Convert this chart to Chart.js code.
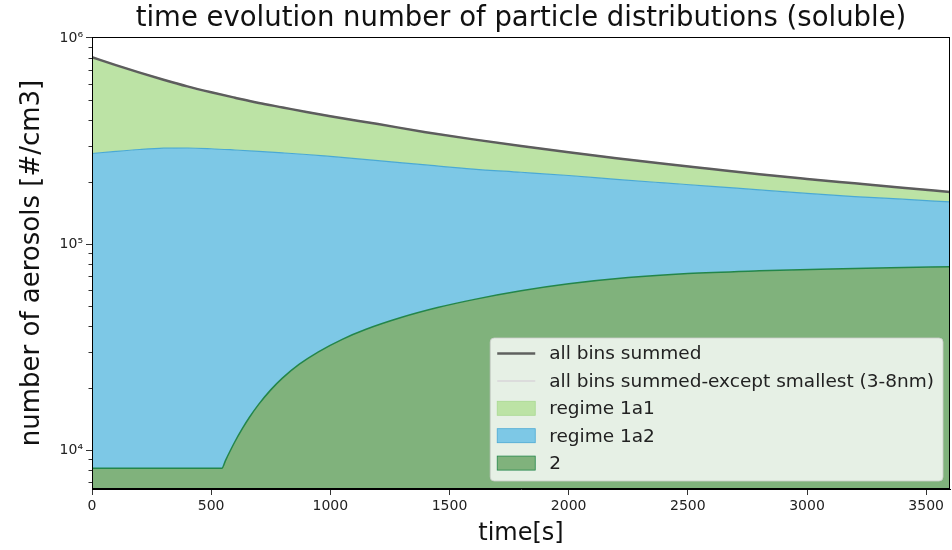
<!DOCTYPE html>
<html>
<head>
<meta charset="utf-8">
<script src="https://cdn.jsdelivr.net/npm/chart.js@4"></script>
<style>
  html, body { margin: 0; background: #fff; }
</style>
</head>
<body>
<canvas id="evolutionChart" width="952" height="550"></canvas>
<script>
// ==================== DATA ====================
// time [s] for the summed curves and the 1a2 band
const times = [0, 100, 200, 300, 400, 500, 600, 700, 800, 900, 1000,
  1200, 1400, 1600, 1800, 2000, 2200, 2400, 2600, 2800, 3000, 3200, 3400, 3600];

// all bins summed [#/cm3] (also the top of the stack)
const summedAll = [806000, 738000, 679000, 627000, 582000, 545000, 513000, 484000, 460000, 437000, 417000,
  382000, 349000, 322000, 299000, 279000, 261000, 245000, 231000, 218000, 207000, 197000, 187500, 179000];

// all bins except the 3-8nm bin, runs right under the full sum
const summedExceptSmallest = [806000, 738000, 679000, 627000, 582000, 545000, 513000, 484000, 460000, 437000, 417000,
  382000, 349000, 322000, 299000, 279000, 261000, 245000, 231000, 218000, 207000, 197000, 187500, 179000];

// upper edge of the regime 1a2 band (1a2 stacked on 2)
const regime1a2Top = [275000, 281600, 287500, 291700, 292400, 290000, 286000, 281600, 277000, 272000, 266000,
  254000, 242000, 231000, 223000, 215000, 206000, 198000, 190500, 183000, 176000, 170000, 165000, 160000];

// regime 2 has its own time grid, denser where it starts growing
const times2 = [0, 545, 560, 580, 600, 630, 660, 700, 750, 800, 870, 950, 1050, 1150,
  1300, 1450, 1600, 1800, 2000, 2250, 2500, 2800, 3100, 3350, 3600];
const regime2 = [8150, 8150, 8890, 9920, 11000, 12660, 14380, 16700, 19590, 22400, 26100, 29970, 34470, 38550,
  44070, 49140, 53720, 59270, 64090, 68730, 71870, 74070, 75710, 76760, 77640];

const xTicks = [0, 500, 1000, 1500, 2000, 2500, 3000, 3500];
const yTicks = [7000, 8000, 9000,
  10000, 20000, 30000, 40000, 50000, 60000, 70000, 80000, 90000,
  100000, 200000, 300000, 400000, 500000, 600000, 700000, 800000, 900000,
  1000000];

const FONT = 'DejaVu Sans';
const SUP = { '4': '⁴', '5': '⁵', '6': '⁶' };

const toPoints = (ts, arr) => ts.map((t, i) => ({ x: t, y: arr[i] }));
const isDecade = v => Math.abs(Math.log10(v) - Math.round(Math.log10(v))) < 1e-9;

// ==================== PLUGINS ====================
// box around the axes + short minor ticks on the log axis
const frame = {
  id: 'frame',
  afterDatasetsDraw(chart) {
    const { ctx, chartArea: a, scales: { y } } = chart;
    ctx.save();
    ctx.strokeStyle = '#000';
    ctx.lineWidth = 1;
    ctx.strokeRect(a.left + 0.5, a.top + 0.5, a.right - a.left - 1, a.bottom - a.top - 1);
    ctx.strokeStyle = '#333';
    ctx.beginPath();
    yTicks.filter(v => !isDecade(v)).forEach(v => {
      const py = Math.round(y.getPixelForValue(v)) + 0.5;
      ctx.moveTo(a.left - 3.5, py);
      ctx.lineTo(a.left, py);
    });
    ctx.stroke();
    ctx.restore();
  }
};

// legend box in the lower right corner of the plot
const insideLegend = {
  id: 'insideLegend',
  afterDraw(chart) {
    const { ctx, chartArea: a } = chart;
    const sets = chart.data.datasets;
    ctx.save();
    ctx.font = `18.5px "${FONT}"`;
    const textW = Math.max(...sets.map(d => ctx.measureText(d.label).width));
    const w = 7 + 38 + 14 + textW + 9;
    const h = 143;
    const x0 = a.right - 7 - w;
    const y0 = a.bottom - 8 - h;
    ctx.beginPath();
    ctx.roundRect(x0, y0, w, h, 4);
    ctx.fillStyle = 'rgba(255,255,255,0.8)';
    ctx.fill();
    ctx.strokeStyle = 'rgba(204,204,204,0.8)';
    ctx.lineWidth = 1;
    ctx.stroke();

    ctx.textBaseline = 'middle';
    sets.forEach((d, i) => {
      const cy = y0 + 15.5 + i * 27.4;
      const hx = x0 + 7;
      if (d.fill) {
        ctx.fillStyle = d.backgroundColor;
        ctx.fillRect(hx, cy - 7, 38, 14);
        ctx.strokeStyle = d.borderColor;
        ctx.lineWidth = 0.8;
        ctx.strokeRect(hx, cy - 7, 38, 14);
      } else {
        ctx.strokeStyle = d.borderColor;
        ctx.lineWidth = d.borderWidth;
        ctx.beginPath();
        ctx.moveTo(hx, cy);
        ctx.lineTo(hx + 38, cy);
        ctx.stroke();
      }
      ctx.fillStyle = '#222';
      ctx.fillText(d.label, hx + 38 + 14, cy + 1);
    });
    ctx.restore();
  }
};

// ==================== CHART ====================
const line = { pointRadius: 0, cubicInterpolationMode: 'monotone' };

new Chart(document.getElementById('evolutionChart'), {
  type: 'line',
  data: {
    datasets: [
      { ...line, label: 'all bins summed', data: toPoints(times, summedAll),
        borderColor: 'rgba(70,70,70,0.85)', borderWidth: 2.5, fill: false },
      { ...line, label: 'all bins summed-except smallest (3-8nm)', data: toPoints(times, summedExceptSmallest),
        borderColor: '#dcdcdc', borderWidth: 2, fill: false },
      { ...line, label: 'regime 1a1', data: toPoints(times, summedAll),
        backgroundColor: '#bce3a5', borderColor: '#a8d990', borderWidth: 1, fill: '+1' },
      { ...line, label: 'regime 1a2', data: toPoints(times, regime1a2Top),
        backgroundColor: '#7dc8e6', borderColor: '#4aa9d4', borderWidth: 1.2, fill: '+1' },
      { ...line, label: '2', data: toPoints(times2, regime2),
        backgroundColor: '#80b27c', borderColor: '#23864a', borderWidth: 1.5, fill: 'start' }
    ]
  },
  options: {
    responsive: false,
    animation: false,
    devicePixelRatio: 1,
    layout: { padding: { left: 0, right: 2, top: 0, bottom: 0 } },
    plugins: {
      legend: { display: false },
      tooltip: { enabled: false },
      filler: { drawTime: 'beforeDatasetsDraw' },
      title: {
        display: true,
        fullSize: false,
        text: 'time evolution number of particle distributions (soluble)',
        color: '#111',
        font: { family: FONT, size: 27.5, weight: 'normal' },
        padding: { top: 2, bottom: 2 }
      }
    },
    scales: {
      x: {
        type: 'linear', min: 0, max: 3600,
        afterBuildTicks: s => { s.ticks = xTicks.map(v => ({ value: v })); },
        afterFit: s => { s.height = 61; },
        ticks: { color: '#222', font: { family: FONT, size: 14 }, padding: 3, maxRotation: 0, autoSkip: false,
          callback: v => String(v) },
        grid: { drawOnChartArea: false, tickLength: 6, tickColor: '#333' },
        border: { color: '#000' },
        title: { display: true, text: 'time[s]', color: '#111',
          font: { family: FONT, size: 24 }, padding: { top: 0, bottom: 2 } }
      },
      y: {
        type: 'logarithmic', min: 6470, max: 1011000,
        afterBuildTicks: s => { s.ticks = yTicks.map(v => ({ value: v })); },
        afterFit: s => { s.width = 92; },
        ticks: {
          color: '#222', font: { family: FONT, size: 14 }, padding: 3, autoSkip: false,
          callback: v => isDecade(v) ? '10' + SUP[String(Math.round(Math.log10(v)))] : ''
        },
        grid: {
          drawOnChartArea: false, tickLength: 6,
          tickColor: c => (c.tick && isDecade(c.tick.value)) ? '#333' : 'rgba(0,0,0,0)'
        },
        border: { color: '#000' },
        title: { display: true, text: 'number of aerosols [#/cm3]', color: '#111',
          font: { family: FONT, size: 26 }, padding: { top: 16.5, bottom: 0 } }
      }
    }
  },
  plugins: [frame, insideLegend]
});
</script>
</body>
</html>
